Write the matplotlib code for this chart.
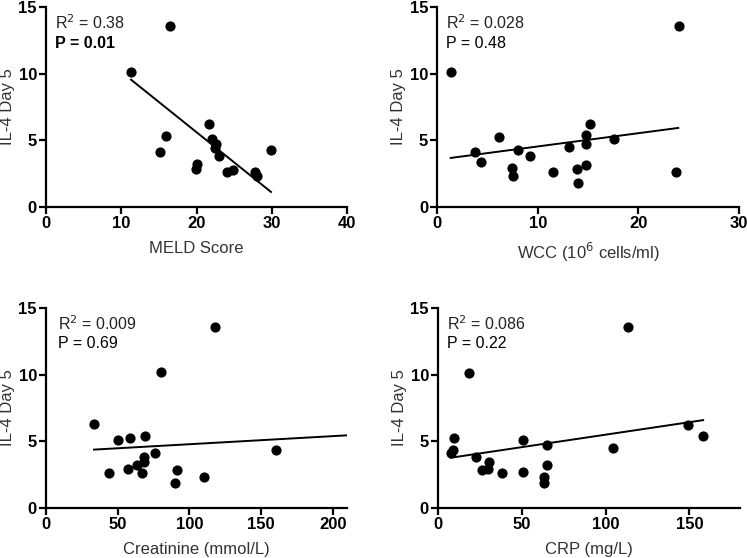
import matplotlib
matplotlib.use("Agg")
import matplotlib.pyplot as plt

plt.rcParams['font.family'] = ['Liberation Sans', 'DejaVu Sans']

y_label = "IL-4 Day 5"

# Panel 1: MELD
meld_x = [11.3, 16.5, 16.0, 15.2, 21.7, 22.1, 22.6, 22.5, 23.0, 20.1, 19.9, 24.1, 24.9, 27.8, 28.1, 29.9]
meld_y = [10.15, 13.55, 5.33, 4.13, 6.25, 5.1, 4.7, 4.45, 3.8, 3.2, 2.88, 2.63, 2.8, 2.6, 2.3, 4.3]
meld_fit_x = [11.3, 29.9]
meld_fit_y = [9.55, 1.13]

# Panel 2: WCC
wcc_x = [1.33, 24.0, 3.71, 4.31, 6.13, 7.39, 7.49, 8.02, 9.18, 11.5, 13.09, 13.85, 14.02, 14.75, 14.75, 14.75, 15.15, 17.53, 23.73]
wcc_y = [10.15, 13.55, 4.13, 3.4, 5.23, 2.93, 2.33, 4.3, 3.8, 2.65, 4.48, 2.83, 1.83, 5.38, 4.7, 3.18, 6.25, 5.08, 2.63]
wcc_fit_x = [1.33, 23.96]
wcc_fit_y = [3.68, 5.93]

# Panel 3: Creatinine
creat_x = [33.5, 44.2, 50.0, 57.0, 58.4, 63.3, 67.2, 68.1, 68.6, 69.3, 75.8, 80.0, 90.0, 91.2, 110.0, 118.1, 160.7]
creat_y = [6.28, 2.63, 5.08, 2.9, 5.25, 3.23, 2.65, 3.85, 3.45, 5.38, 4.15, 10.18, 1.85, 2.83, 2.3, 13.6, 4.33]
creat_fit_x = [33.5, 210.0]
creat_fit_y = [4.38, 5.45]

# Panel 4: CRP
crp_x = [7.6, 8.8, 9.6, 18.5, 22.5, 26.1, 29.7, 30.7, 38.4, 50.6, 50.6, 63.3, 63.3, 65.3, 65.3, 104.4, 113.3, 149.0, 158.2]
crp_y = [4.12, 4.34, 5.24, 10.16, 3.79, 2.82, 2.9, 3.47, 2.62, 5.07, 2.67, 2.35, 1.85, 4.72, 3.19, 4.47, 13.55, 6.26, 5.39]
crp_fit_x = [7.6, 158.2]
crp_fit_y = [3.77, 6.59]

panels = [
    dict(x=meld_x, y=meld_y, fx=meld_fit_x, fy=meld_fit_y, xlim=40, xticks=[0, 10, 20, 30, 40],
         xlabel="MELD Score", r2="0.38", p="0.01", bold=True,
         rect=[46/747, 1-207/558, 301/747, 200/558], tx=9),
    dict(x=wcc_x, y=wcc_y, fx=wcc_fit_x, fy=wcc_fit_y, xlim=30, xticks=[0, 10, 20, 30],
         xlabel="WCC (10$^{6}$ cells/ml)", r2="0.028", p="0.48", bold=False,
         rect=[437.3/747, 1-207/558, 301.7/747, 200/558], tx=9),
    dict(x=creat_x, y=creat_y, fx=creat_fit_x, fy=creat_fit_y, xlim=210, xticks=[0, 50, 100, 150, 200],
         xlabel="Creatinine (mmol/L)", r2="0.009", p="0.69", bold=False,
         rect=[46/747, 1-508/558, 301/747, 200/558], tx=12),
    dict(x=crp_x, y=crp_y, fx=crp_fit_x, fy=crp_fit_y, xlim=180, xticks=[0, 50, 100, 150],
         xlabel="CRP (mg/L)", r2="0.086", p="0.22", bold=False,
         rect=[438/747, 1-508/558, 301.7/747, 200/558], tx=9),
]

fig = plt.figure(figsize=(7.47, 5.58), dpi=100)
for pn in panels:
    ax = fig.add_axes(pn['rect'])
    w = pn['rect'][2] * 747
    ax.scatter(pn['x'], pn['y'], s=40, color='black', zorder=3, clip_on=False)
    ax.plot(pn['fx'], pn['fy'], color='black', lw=1.4)
    ax.set_xlim(0, pn['xlim'])
    ax.set_ylim(0, 15)
    ax.set_xticks(pn['xticks'])
    ax.set_yticks([0, 5, 10, 15])
    for s in ['top', 'right']:
        ax.spines[s].set_visible(False)
    for s in ['left', 'bottom']:
        ax.spines[s].set_linewidth(1.6)
    ax.tick_params(direction='out', length=5, width=1.6, labelsize=12, pad=1.5, colors='black')
    for lab in ax.get_xticklabels() + ax.get_yticklabels():
        lab.set_fontweight('bold')
    ax.set_xlabel(pn['xlabel'], fontsize=12, color='#333333', labelpad=7)
    ax.set_ylabel(y_label, fontsize=12, color='#333333')
    ax.yaxis.set_label_coords(-31/w, 0.5)
    ax.text(pn['tx']/w, 0.92, "R$^{2}$ = " + pn['r2'], transform=ax.transAxes,
            fontsize=11.5, va='center', ha='left', color='#222222')
    ax.text(pn['tx']/w, 0.82, "P = " + pn['p'], transform=ax.transAxes,
            fontsize=11.5, va='center', ha='left', color='black',
            fontweight='bold' if pn['bold'] else 'normal')

fig.savefig("out.png", dpi=100)
